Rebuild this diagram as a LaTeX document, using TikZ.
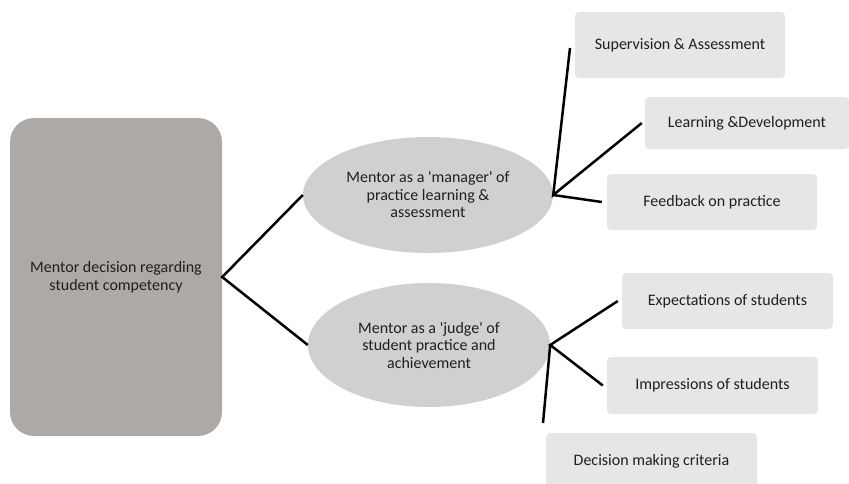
\documentclass[tikz,border=0pt]{standalone}
\usepackage{fontspec}
\setmainfont{Carlito}[Ligatures=TeXOff]
\usetikzlibrary{shapes.geometric,calc}
\definecolor{rootgray}{HTML}{ADA9A7}
\definecolor{ellgray}{HTML}{D0D0D0}
\definecolor{boxgray}{HTML}{E6E6E6}
\tikzset{
  txt/.style={font=\fontsize{16}{17.5}\selectfont, align=center, text=black!88},
  rootbox/.style={txt, rectangle, rounded corners=24pt, fill=rootgray, minimum width=212pt, minimum height=318pt, inner sep=0pt},
  ellnode/.style={txt, ellipse, fill=ellgray, inner sep=0pt},
  leafbox/.style={txt, rectangle, rounded corners=4pt, fill=boxgray, minimum width=211pt, minimum height=56pt, inner sep=0pt},
  conn/.style={draw=black, line width=2.5pt},
}
\begin{document}
\begin{tikzpicture}[x=1pt,y=-1pt]
\useasboundingbox (0,0) rectangle (849,483);
\node[rootbox] (root) at (116,277) {Mentor decision regarding\\student competency};
\node[ellnode, minimum width=250pt, minimum height=116pt] (e1) at (428,195) {Mentor as a 'manager' of\\practice learning \&\\assessment};
\node[ellnode, minimum width=242pt, minimum height=124pt] (e2) at (429,345) {Mentor as a 'judge' of\\student practice and\\achievement};
\node[leafbox, minimum height=66pt, minimum width=210pt] (sup) at (680,45) {Supervision \& Assessment};
\node[leafbox, minimum height=52pt, minimum width=204pt] (lrn) at (747,123) {Learning \&Development};
\node[leafbox, minimum width=210pt] (fb) at (712,202) {Feedback on practice};
\node[leafbox] (exp) at (727.5,301) {Expectations of students};
\node[leafbox, minimum height=57pt] (imp) at (712.5,385.5) {Impressions of students};
\node[leafbox] (dec) at (651.5,461) {Decision making criteria};
\coordinate (supend) at (570,48);
\coordinate (decend) at (543,423);
\draw[conn] (e1.west) -- (root.east) -- (e2.west);
\draw[conn] (supend) -- (e1.east) -- ([xshift=-3pt]lrn.west);
\draw[conn] (e1.east) -- ([xshift=-5pt]fb.west);
\draw[conn] ([xshift=-4pt]exp.west) -- (e2.east) -- ([xshift=-4pt]imp.west);
\draw[conn] (e2.east) -- (decend);
\end{tikzpicture}
\end{document}
